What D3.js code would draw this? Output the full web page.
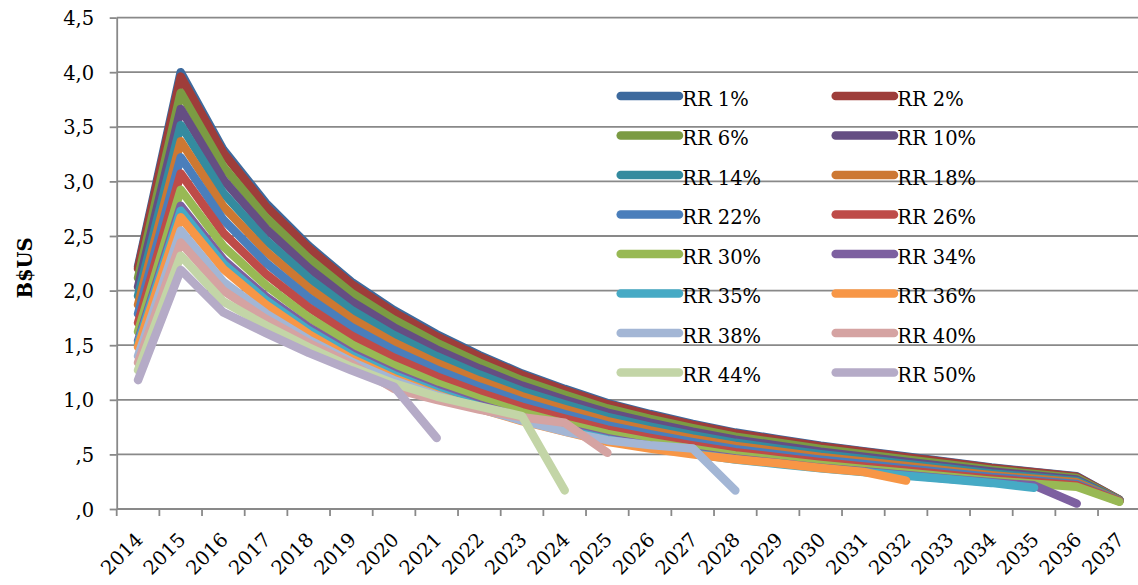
<!DOCTYPE html>
<html>
<head>
<meta charset="utf-8">
<script src="https://cdn.jsdelivr.net/npm/d3@7"></script>
<style>
  body { margin: 0; background: #ffffff; }
  svg { display: block; }
  text { font-family: "DejaVu Serif", serif; fill: #000; }
</style>
</head>
<body>
<div id="area"></div>
<script>
let years = ['2014','2015','2016','2017','2018','2019','2020','2021','2022','2023','2024','2025',
             '2026','2027','2028','2029','2030','2031','2032','2033','2034','2035','2036','2037']

let seriesNames = ['RR 1%','RR 2%','RR 6%','RR 10%','RR 14%','RR 18%','RR 22%','RR 26%',
                   'RR 30%','RR 34%','RR 35%','RR 36%','RR 38%','RR 40%','RR 44%','RR 50%']

let seriesColors = ['#3d6a9e','#9e3d3a','#7b9b43','#654e83','#348b9f','#cd7832','#4a7ebb','#be4b48',
                    '#98b954','#7d60a0','#46aac5','#f79646','#a3b6d5','#d5a3a2','#c3d5a7','#b5abc7']

// values in B$US, one per year, null once the series has ended
let rr1  = [2.22,4.00,3.29,2.80,2.41,2.08,1.82,1.60,1.41,1.24,1.10,0.97,0.87,0.78,0.70,0.64,0.58,0.53,0.48,0.43,0.38,0.34,0.30,0.085]
let rr2  = [2.20,3.96,3.26,2.77,2.39,2.06,1.80,1.58,1.395,1.227,1.088,0.96,0.86,0.771,0.692,0.633,0.573,0.524,0.474,0.425,0.376,0.336,0.296,0.084]
let rr6  = [2.116,3.812,3.135,2.668,2.296,1.980,1.732,1.522,1.340,1.178,1.045,0.921,0.825,0.740,0.663,0.606,0.549,0.502,0.454,0.407,0.359,0.321,0.283,0.082]
let rr10 = [2.034,3.664,3.014,2.565,2.206,1.902,1.663,1.460,1.286,1.130,1.001,0.882,0.790,0.708,0.635,0.580,0.525,0.479,0.434,0.388,0.343,0.306,0.270,0.080]
let rr14 = [1.951,3.516,2.892,2.461,2.115,1.823,1.593,1.399,1.231,1.081,0.958,0.843,0.755,0.676,0.606,0.553,0.501,0.457,0.413,0.370,0.326,0.291,0.257,0.078]
let rr18 = [1.869,3.368,2.770,2.358,2.025,1.745,1.524,1.337,1.176,1.032,0.914,0.805,0.720,0.644,0.577,0.527,0.476,0.435,0.393,0.351,0.310,0.277,0.244,0.076]
let rr22 = [1.787,3.220,2.648,2.254,1.935,1.666,1.454,1.276,1.121,0.984,0.870,0.766,0.685,0.613,0.548,0.500,0.452,0.412,0.372,0.333,0.293,0.262,0.230,0.074]
let rr26 = [1.705,3.072,2.527,2.150,1.845,1.588,1.385,1.214,1.067,0.935,0.827,0.727,0.650,0.581,0.520,0.474,0.428,0.390,0.352,0.314,0.277,0.247,0.217,0.071]
let rr30 = [1.623,2.924,2.405,2.047,1.755,1.509,1.316,1.152,1.012,0.886,0.783,0.688,0.615,0.549,0.491,0.447,0.404,0.367,0.331,0.296,0.260,0.232,0.204,0.066]
let rr34 = [1.541,2.776,2.283,1.943,1.665,1.431,1.246,1.091,0.957,0.838,0.740,0.649,0.580,0.517,0.462,0.421,0.379,0.345,0.311,0.277,0.244,0.217,0.05,null]
let rr35 = [1.516,2.732,2.247,1.912,1.638,1.408,1.226,1.072,0.941,0.823,0.727,0.638,0.569,0.508,0.454,0.413,0.372,0.338,0.305,0.272,0.239,0.195,null,null]
let rr36 = [1.483,2.672,2.198,1.870,1.602,1.376,1.198,1.048,0.918,0.804,0.709,0.615,0.553,0.500,0.455,0.418,0.375,0.340,0.26,null,null,null,null,null]
let rr38 = [1.40,2.55,2.08,1.79,1.55,1.35,1.18,1.04,0.92,0.81,0.71,0.63,0.585,0.555,0.17,null,null,null,null,null,null,null,null,null]
let rr40 = [1.34,2.44,2.00,1.74,1.52,1.33,1.10,1.00,0.91,0.84,0.79,0.515,null,null,null,null,null,null,null,null,null,null,null,null]
let rr44 = [1.27,2.32,1.90,1.68,1.48,1.30,1.15,1.03,0.94,0.85,0.17,null,null,null,null,null,null,null,null,null,null,null,null,null]
let rr50 = [1.18,2.19,1.80,1.61,1.43,1.27,1.12,0.65,null,null,null,null,null,null,null,null,null,null,null,null,null,null,null,null]

let seriesValues = [rr1, rr2, rr6, rr10, rr14, rr18, rr22, rr26, rr30, rr34, rr35, rr36, rr38, rr40, rr44, rr50]

let yTicks = [0, 0.5, 1, 1.5, 2, 2.5, 3, 3.5, 4, 4.5]
let yTickLabels = [',0', ',5', '1,0', '1,5', '2,0', '2,5', '3,0', '3,5', '4,0', '4,5']

let width = 1138
let height = 585
let font_size = 19.5
let grid_color = '#898989'
let line_width = 8.5

let svg = d3.select('#area').append('svg')
  .attr('width', width)
  .attr('height', height)

let x = d3.scaleBand().domain(years).range([116.7, 1140.7])
let y = d3.scaleLinear().domain([0, 4.5]).range([509, 17.6])

// horizontal gridlines
svg.append('g')
  .selectAll('line')
  .data(yTicks.filter(d => d > 0))
  .join('line')
  .attr('x1', x.range()[0])
  .attr('x2', x.range()[1])
  .attr('y1', d => y(d))
  .attr('y2', d => y(d))
  .attr('stroke', grid_color)
  .attr('stroke-width', 1.8)

// y axis
let yAxis = svg.append('g')
  .attr('transform', 'translate(' + x.range()[0] + ',0)')
  .call(d3.axisLeft(y)
    .tickValues(yTicks)
    .tickFormat((d, i) => yTickLabels[i])
    .tickSize(7)
    .tickSizeOuter(0)
    .tickPadding(15.5))
yAxis.select('.domain').attr('stroke', grid_color).attr('stroke-width', 1.8)
yAxis.selectAll('.tick line').attr('stroke', grid_color).attr('stroke-width', 1.8)
yAxis.selectAll('.tick text')
  .attr('font-family', '"DejaVu Serif", serif')
  .attr('font-size', font_size)
  .attr('dy', '0.36em')
  .attr('fill', '#000')

// x axis: line, ticks on category boundaries, rotated labels
let xAxis = svg.append('g').attr('transform', 'translate(0,' + y(0) + ')')
xAxis.append('line')
  .attr('x1', x.range()[0])
  .attr('x2', x.range()[1])
  .attr('stroke', grid_color)
  .attr('stroke-width', 1.8)
xAxis.selectAll('line.tick')
  .data(years.concat(['end']))
  .join('line')
  .attr('class', 'tick')
  .attr('x1', d => d == 'end' ? x.range()[1] : x(d))
  .attr('x2', d => d == 'end' ? x.range()[1] : x(d))
  .attr('y1', 0)
  .attr('y2', 7)
  .attr('stroke', grid_color)
  .attr('stroke-width', 1.8)
xAxis.selectAll('text')
  .data(years)
  .join('text')
  .attr('transform', d => 'translate(' + (x(d) + x.bandwidth() / 2 + 6) + ',32) rotate(-45)')
  .attr('text-anchor', 'end')
  .attr('font-size', font_size)
  .text(d => d)

// y axis title
svg.append('text')
  .attr('transform', 'translate(32,268) rotate(-90)')
  .attr('text-anchor', 'middle')
  .attr('font-size', font_size)
  .attr('font-weight', 'bold')
  .text('B$US')

// series lines, first series at the bottom
let line = d3.line()
  .defined(v => v != null)
  .x((v, i) => x(years[i]) + x.bandwidth() / 2)
  .y(v => y(v))

svg.append('g')
  .selectAll('path')
  .data(seriesValues)
  .join('path')
  .attr('d', d => line(d))
  .attr('fill', 'none')
  .attr('stroke', (d, i) => seriesColors[i])
  .attr('stroke-width', line_width)
  .attr('stroke-linecap', 'round')
  .attr('stroke-linejoin', 'round')

// legend, two columns
let legend_x = [620.7, 835.7]
let legend_y0 = 96
let legend_step = 39.5
let legend = svg.append('g')
  .selectAll('g')
  .data(seriesNames)
  .join('g')
  .attr('transform', (d, i) => 'translate(' + legend_x[i % 2] + ',' + (legend_y0 + Math.floor(i / 2) * legend_step) + ')')

legend.append('line')
  .attr('x1', 0)
  .attr('x2', 58.3)
  .attr('stroke', (d, i) => seriesColors[i])
  .attr('stroke-width', line_width)
  .attr('stroke-linecap', 'round')

legend.append('text')
  .attr('x', 61.5)
  .attr('y', 9.5)
  .attr('font-size', font_size)
  .text(d => d)
</script>
</body>
</html>
